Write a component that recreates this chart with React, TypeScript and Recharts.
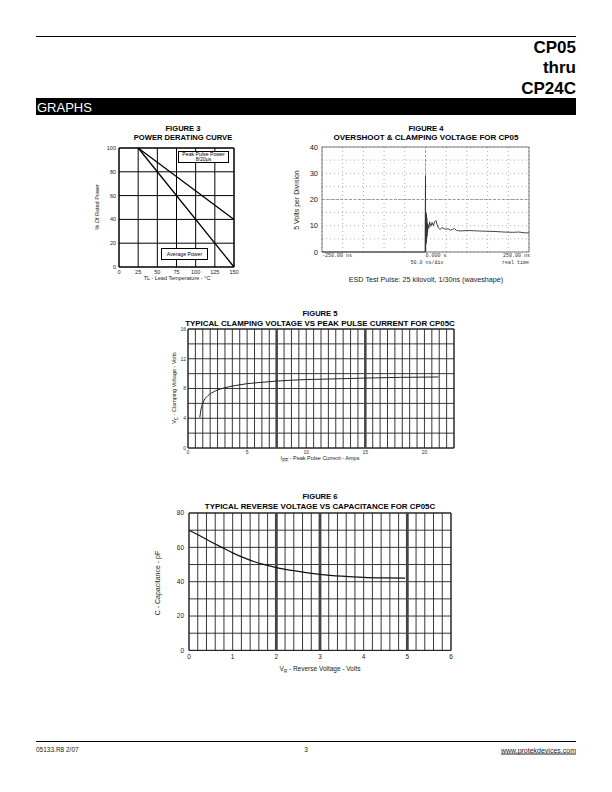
import React from "react";
import {
  LineChart,
  Line,
  XAxis,
  YAxis,
  CartesianGrid,
  ReferenceLine,
  ReferenceArea,
} from "recharts";

const SANS = '"Liberation Sans", Arial, Helvetica, sans-serif';
const MONO = '"Liberation Mono", "Courier New", monospace';

// Figure 3 - power derating curve
const deratingTemp = [25, 150];
const peakPulsePower = [100, 40];
const averagePower = [100, 0];
const deratingTicksX = [0, 25, 50, 75, 100, 125, 150];
const deratingTicksY = [0, 20, 40, 60, 80, 100];

// Figure 4 - ESD overshoot / clamping waveform (ns, volts)
const esdTime = [
  -250, -1, 0, 0.3, 0.8, 1.2, 1.6, 2, 2.4, 2.8, 3.2, 3.6, 4.2, 5, 6, 8, 10, 13,
  16, 19, 22, 25, 28, 31, 35, 40, 47, 55, 60, 65, 70, 75, 85, 100, 115, 130,
  150, 170, 190, 210, 225, 240, 250,
];
const esdVolts = [
  0, 0, 29, 0, 15, 3, 14.5, 4, 14, 5, 13, 6, 11, 7.5, 10.5, 9, 11.5, 9.8, 11.2,
  10, 11.5, 12, 10.5, 9.2, 8.6, 9.3, 8.7, 8.8, 8.3, 8.6, 8.9, 8.2, 8.0, 8.2,
  8.1, 8.0, 7.9, 7.8, 7.6, 7.5, 7.6, 7.3, 7.3,
];
const esdGridX = [-250, -200, -150, -100, -50, 0, 50, 100, 150, 200, 250];
const esdGridY = [0, 5, 10, 15, 20, 25, 30, 35, 40];

// Figure 5 - clamping voltage vs peak pulse current
const ippAmps = [1, 1.1, 1.3, 1.6, 2, 2.5, 3, 4, 5, 6, 7.5, 10, 12.5, 15, 18, 21.2];
const vcVolts = [4.1, 5.2, 6.2, 6.9, 7.4, 7.8, 8.05, 8.4, 8.65, 8.8, 9.0, 9.2, 9.3, 9.4, 9.5, 9.55];
const clampGridX = Array.from({ length: 37 }, (_, i) => i * 0.625);
const clampGridY = [0, 2, 4, 6, 8, 10, 12, 14, 16];
const clampHeavyX = [7.5, 15];

// Figure 6 - reverse voltage vs capacitance
const vrVolts = [0, 0.25, 0.5, 0.75, 1, 1.25, 1.5, 1.75, 2, 2.5, 3, 3.5, 4, 4.5, 4.95];
const capPf = [70, 66.7, 63.3, 60, 56.8, 54, 51.6, 49.8, 48.2, 46, 44.3, 43.2, 42.5, 42.2, 42.1];
const capGridX = Array.from({ length: 31 }, (_, i) => Math.round(i * 2) / 10);
const capGridY = [0, 10, 20, 30, 40, 50, 60, 70, 80];
const capHeavyX = [2, 3, 5];

const deratingData = deratingTemp.map((t, i) => ({ t, peak: peakPulsePower[i], avg: averagePower[i] }));
const esdData = esdTime.map((t, i) => ({ t, v: esdVolts[i] }));
const clampData = ippAmps.map((a, i) => ({ a, v: vcVolts[i] }));
const capData = vrVolts.map((x, i) => ({ x, c: capPf[i] }));

type Box = { x: number; y: number; w: number; h: number };
type Pad = { l: number; r: number; t: number; b: number };

function Plot({ box, pad, data, children }: { box: Box; pad: Pad; data: any[]; children: React.ReactNode }) {
  return (
    <div style={{ position: "absolute", left: box.x - pad.l, top: box.y - pad.t }}>
      <LineChart
        width={box.w + pad.l + pad.r}
        height={box.h + pad.t + pad.b}
        data={data}
        margin={{ top: pad.t, right: pad.r, left: 0, bottom: 0 }}
      >
        {children}
      </LineChart>
    </div>
  );
}

function Txt({
  x,
  y,
  size,
  bold,
  anchor = "middle",
  rotate,
  color = "#000",
  font = SANS,
  underline,
  children,
}: {
  x: number;
  y: number;
  size: number;
  bold?: boolean;
  anchor?: "start" | "middle" | "end";
  rotate?: boolean;
  color?: string;
  font?: string;
  underline?: boolean;
  children: React.ReactNode;
}) {
  const tx = anchor === "start" ? "0" : anchor === "end" ? "-100%" : "-50%";
  return (
    <div
      style={{
        position: "absolute",
        left: x,
        top: y,
        transform: `translate(${tx}, -50%)${rotate ? " rotate(-90deg)" : ""}`,
        fontFamily: font,
        fontSize: size,
        fontWeight: bold ? 700 : 400,
        lineHeight: 1,
        whiteSpace: "nowrap",
        color,
        textDecoration: underline ? "underline" : "none",
      }}
    >
      {children}
    </div>
  );
}

function EsdTick(props: any) {
  const { x, y, payload } = props;
  const st = { fontFamily: MONO, fontSize: 5, fill: "#333" };
  if (payload.value === -250)
    return (
      <text x={x} y={y + 5} textAnchor="start" {...st}>
        -250.00 ns
      </text>
    );
  if (payload.value === 0)
    return (
      <g>
        <text x={x} y={y + 5} textAnchor="start" {...st}>
          0.000  s
        </text>
        <text x={x - 15} y={y + 12} textAnchor="start" {...st}>
          50.0 ns/div
        </text>
      </g>
    );
  if (payload.value === 250)
    return (
      <g>
        <text x={x + 1} y={y + 5} textAnchor="end" {...st}>
          250.00 ns
        </text>
        <text x={x} y={y + 12} textAnchor="end" {...st}>
          real time
        </text>
      </g>
    );
  return <g />;
}

const intLabel = (v: number) => (Math.abs(v - Math.round(v)) < 1e-6 ? String(Math.round(v)) : "");

export default function App() {
  const tick3 = { fontSize: 5.5, fill: "#222", fontFamily: SANS };
  const tick5 = { fontSize: 5, fill: "#333", fontFamily: SANS };
  const tick6 = { fontSize: 6.5, fill: "#222", fontFamily: SANS };

  return (
    <div style={{ position: "absolute", left: 0, top: 0, width: 612, height: 792, background: "#fff", fontFamily: SANS }}>
      {/* header */}
      <div style={{ position: "absolute", left: 36, top: 36, width: 540, height: 1, background: "#000" }} />
      <Txt x={576} y={47} size={17} bold anchor="end">CP05</Txt>
      <Txt x={576} y={67} size={17} bold anchor="end">thru</Txt>
      <Txt x={576} y={87.5} size={17} bold anchor="end">CP24C</Txt>
      <div style={{ position: "absolute", left: 36, top: 98, width: 540, height: 17, background: "#000" }} />
      <Txt x={37} y={106.5} size={13} anchor="start" color="#fff">GRAPHS</Txt>

      {/* figure 3 */}
      <Txt x={183} y={129} size={7.6} bold>FIGURE 3</Txt>
      <Txt x={183} y={137.5} size={7.6} bold>POWER DERATING CURVE</Txt>
      <Plot box={{ x: 119, y: 147.5, w: 115, h: 119 }} pad={{ l: 25, r: 8, t: 6, b: 14 }} data={deratingData}>
        <CartesianGrid stroke="#000" strokeWidth={1} />
        <XAxis type="number" dataKey="t" domain={[0, 150]} ticks={deratingTicksX} interval={0} height={14}
          tickSize={0} tickMargin={3} axisLine={false} tickLine={false} tick={tick3} />
        <YAxis type="number" domain={[0, 100]} ticks={deratingTicksY} interval={0} width={25}
          tickSize={0} tickMargin={3} axisLine={false} tickLine={false} tick={tick3} />
        <ReferenceArea x1={0} x2={150} y1={0} y2={100} fill="none" stroke="#000" strokeWidth={1} />
        <Line type="linear" dataKey="peak" stroke="#000" strokeWidth={1.3} dot={false} isAnimationActive={false} />
        <Line type="linear" dataKey="avg" stroke="#000" strokeWidth={1.3} dot={false} isAnimationActive={false} />
      </Plot>
      <div style={{ position: "absolute", left: 178, top: 150.5, width: 51, height: 12.5, boxSizing: "border-box",
        border: "1px solid #000", background: "#fff", fontSize: 5.2, lineHeight: "5.3px", textAlign: "center", paddingTop: 0.5 }}>
        Peak Pulse Power<br />8/20μs
      </div>
      <div style={{ position: "absolute", left: 161, top: 248, width: 47, height: 12, boxSizing: "border-box",
        border: "1px solid #000", background: "#fff", fontSize: 5.2, lineHeight: "10px", textAlign: "center" }}>
        Average Power
      </div>
      <Txt x={177} y={279} size={5.5} color="#222">TL - Lead Temperature - °C</Txt>
      <Txt x={98} y={207} size={5.5} rotate color="#222">% Of Rated Power</Txt>

      {/* figure 4 */}
      <Txt x={426} y={129} size={7.6} bold>FIGURE 4</Txt>
      <Txt x={426} y={137.5} size={8} bold>OVERSHOOT &amp; CLAMPING VOLTAGE FOR CP05</Txt>
      <Plot box={{ x: 322, y: 147, w: 207, h: 105 }} pad={{ l: 24, r: 8, t: 6, b: 18 }} data={esdData}>
        <CartesianGrid stroke="#999" strokeDasharray="1 3" strokeWidth={0.8} />
        <XAxis type="number" dataKey="t" domain={[-250, 250]} ticks={esdGridX} interval={0} height={18}
          tickSize={0} tickMargin={0} axisLine={false} tickLine={false} tick={<EsdTick />} />
        <YAxis type="number" domain={[0, 40]} ticks={esdGridY} interval={0} width={24}
          tickSize={0} tickMargin={4} axisLine={false} tickLine={false}
          tickFormatter={(v: number) => (v % 10 === 0 ? String(v) : "")}
          tick={{ fontSize: 7.5, fill: "#222", fontFamily: SANS }} />
        <ReferenceLine x={0} stroke="#888" strokeDasharray="3 1.5" strokeWidth={0.8} />
        <ReferenceLine y={20} stroke="#888" strokeDasharray="3 1.5" strokeWidth={0.8} />
        <ReferenceArea x1={-250} x2={250} y1={0} y2={40} fill="none" stroke="#555" strokeWidth={0.8} />
        <Line type="linear" dataKey="v" stroke="#333" strokeWidth={0.9} dot={false} isAnimationActive={false} />
      </Plot>
      <Txt x={296} y={200} size={7} rotate color="#222">5 Volts per Division</Txt>
      <Txt x={426} y={280} size={7.2} color="#222">ESD Test Pulse:  25 kilovolt, 1/30ns (waveshape)</Txt>

      {/* figure 5 */}
      <Txt x={320} y={314} size={7.6} bold>FIGURE 5</Txt>
      <Txt x={320} y={323.5} size={7.9} bold>TYPICAL CLAMPING VOLTAGE VS PEAK PULSE CURRENT FOR CP05C</Txt>
      <Plot box={{ x: 188, y: 328.5, w: 266, h: 119 }} pad={{ l: 14, r: 8, t: 4, b: 12 }} data={clampData}>
        <CartesianGrid stroke="#222" strokeWidth={0.9} />
        <XAxis type="number" dataKey="a" domain={[0, 22.5]} ticks={clampGridX} interval={0} height={12}
          tickSize={0} tickMargin={2} axisLine={false} tickLine={false}
          tickFormatter={(v: number) => (Math.abs(v % 5) < 1e-6 && v <= 20 ? String(v) : "")} tick={tick5} />
        <YAxis type="number" domain={[0, 16]} ticks={clampGridY} interval={0} width={14}
          tickSize={0} tickMargin={2} axisLine={false} tickLine={false}
          tickFormatter={(v: number) => (v % 4 === 0 ? String(v) : "")} tick={tick5} />
        {clampHeavyX.map((x) => (
          <ReferenceLine key={x} x={x} stroke="#444" strokeWidth={2.5} />
        ))}
        <ReferenceArea x1={0} x2={22.5} y1={0} y2={16} fill="none" stroke="#222" strokeWidth={1} />
        <Line type="monotone" dataKey="v" stroke="#222" strokeWidth={1} dot={false} isAnimationActive={false} />
      </Plot>
      <Txt x={176} y={388} size={5.5} rotate color="#222">
        V<sub style={{ fontSize: 4.5 }}>C</sub> - Clamping Voltage - Volts
      </Txt>
      <Txt x={320} y={460} size={5.5} color="#222">
        I<sub style={{ fontSize: 4.5 }}>PP</sub> - Peak Pulse Current - Amps
      </Txt>

      {/* figure 6 */}
      <Txt x={320} y={497} size={7.6} bold>FIGURE 6</Txt>
      <Txt x={320} y={506.5} size={7.9} bold>TYPICAL REVERSE VOLTAGE VS CAPACITANCE FOR CP05C</Txt>
      <Plot box={{ x: 189, y: 513.3, w: 262, h: 137.4 }} pad={{ l: 18, r: 8, t: 5, b: 14 }} data={capData}>
        <CartesianGrid stroke="#222" strokeWidth={0.9} />
        <XAxis type="number" dataKey="x" domain={[0, 6]} ticks={capGridX} interval={0} height={14}
          tickSize={0} tickMargin={4} axisLine={false} tickLine={false} tickFormatter={intLabel} tick={tick6} />
        <YAxis type="number" domain={[0, 80]} ticks={capGridY} interval={0} width={18}
          tickSize={0} tickMargin={5} axisLine={false} tickLine={false}
          tickFormatter={(v: number) => (v % 20 === 0 ? String(v) : "")} tick={tick6} />
        {capHeavyX.map((x) => (
          <ReferenceLine key={x} x={x} stroke="#444" strokeWidth={2.8} />
        ))}
        <ReferenceArea x1={0} x2={6} y1={0} y2={80} fill="none" stroke="#222" strokeWidth={1} />
        <Line type="monotone" dataKey="c" stroke="#111" strokeWidth={1.2} dot={false} isAnimationActive={false} />
      </Plot>
      <Txt x={157} y={583} size={7} rotate color="#222">C - Capacitance - pF</Txt>
      <Txt x={320} y={670} size={6.5} color="#222">
        V<sub style={{ fontSize: 4.5 }}>R</sub> - Reverse Voltage - Volts
      </Txt>

      {/* footer */}
      <div style={{ position: "absolute", left: 36, top: 741, width: 540, height: 1, background: "#000" }} />
      <Txt x={36} y={750} size={6.5} anchor="start" color="#222">05133.R8  2/07</Txt>
      <Txt x={306} y={750} size={6.5} color="#222">3</Txt>
      <Txt x={576} y={750} size={7} anchor="end" color="#222" underline>www.protekdevices.com</Txt>
    </div>
  );
}
